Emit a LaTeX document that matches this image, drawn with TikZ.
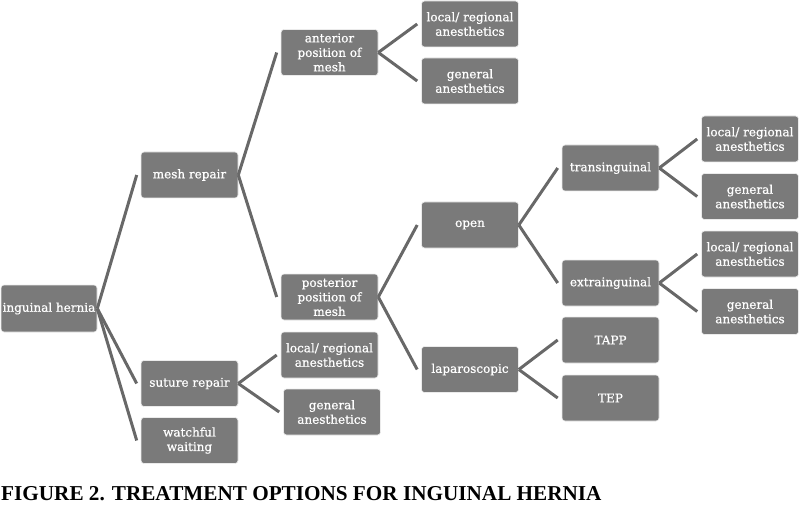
\documentclass[tikz,border=0pt]{standalone}
\usepackage{fontspec}
\setmainfont{Liberation Serif}
\newfontfamily\boxfont[FakeBold=0.7]{DejaVu Serif}
\definecolor{boxgray}{RGB}{122,122,122}
\definecolor{linegray}{RGB}{104,104,104}
\begin{document}
\begin{tikzpicture}[x=1pt,y=-1pt,
  box/.style={fill=boxgray, draw=white!85!boxgray, line width=0.6pt, rounded corners=3pt,
    minimum width=97pt, minimum height=46pt, inner sep=0pt, text=white, align=center,
    font=\boxfont\fontsize{12}{14.5}\selectfont},
  link/.style={draw=linegray, line width=3pt}]
\useasboundingbox (0,0) rectangle (800,505);
% level 0
\node[box, minimum width=96pt, minimum height=47pt] (ing) at (49,308.5) {inguinal hernia};
% level 1
\node[box] (mesh) at (189.5,175) {mesh repair};
\node[box] (sut) at (189.5,383.5) {suture repair};
\node[box] (wat) at (189.5,440.5) {watchful\\waiting};
% level 2
\node[box] (ant) at (329.5,52.5) {anterior\\position of\\mesh};
\node[box] (post) at (329.5,297) {posterior\\position of\\mesh};
\node[box] (sl) at (329.5,355) {local/ regional\\anesthetics};
\node[box] (sg) at (332,412) {general\\anesthetics};
% level 3
\node[box] (al) at (470,24) {local/ regional\\anesthetics};
\node[box] (ag) at (470,81) {general\\anesthetics};
\node[box] (open) at (470,225) {open};
\node[box] (lap) at (470,369.5) {laparoscopic};
% level 4
\node[box] (tr) at (610.5,168) {transinguinal};
\node[box] (ex) at (610.5,283) {extrainguinal};
\node[box] (tapp) at (610.5,340) {TAPP};
\node[box] (tep) at (610.5,398) {TEP};
% level 5
\node[box] (tl) at (750,139) {local/ regional\\anesthetics};
\node[box] (tg) at (750,196.5) {general\\anesthetics};
\node[box] (el) at (750,254) {local/ regional\\anesthetics};
\node[box] (eg) at (750,311.5) {general\\anesthetics};
% connectors
\foreach \p/\c in {ing/mesh, ing/sut, ing/wat, mesh/ant, mesh/post, sut/sl, sut/sg,
  ant/al, ant/ag, post/open, post/lap, open/tr, open/ex, lap/tapp, lap/tep,
  tr/tl, tr/tg, ex/el, ex/eg}
  \draw[link] (\p.east) -- ([xshift=-4pt]\c.west);
% caption
\node[anchor=base west, inner sep=0pt, font=\bfseries\fontsize{21.2}{24}\selectfont] (cap) at (1,500.5)
  {FIGURE 2. TREATMENT OPTIONS FOR INGUINAL HERNIA};
\end{tikzpicture}
\end{document}
